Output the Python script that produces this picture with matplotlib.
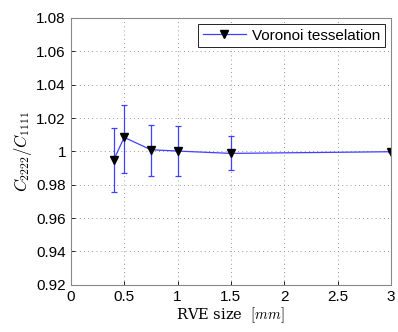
import matplotlib
matplotlib.use("Agg")
import matplotlib.pyplot as plt

# --- data ------------------------------------------------------------------
rve_size = [0.4, 0.5, 0.75, 1.0, 1.5, 3.0]
ratio = [0.9946, 1.0084, 1.0010, 1.0002, 0.9988, 0.9998]
err_low = [0.9755, 0.9870, 0.9855, 0.9850, 0.9890, 0.9998]
err_high = [1.0140, 1.0280, 1.0160, 1.0150, 1.0090, 0.9998]

xticks = [0, 0.5, 1, 1.5, 2, 2.5, 3]
xtick_labels = ["0", "0.5", "1", "1.5", "2", "2.5", "3"]
yticks = [0.92, 0.94, 0.96, 0.98, 1.00, 1.02, 1.04, 1.06, 1.08]
ytick_labels = ["0.92", "0.94", "0.96", "0.98", "1", "1.02", "1.04", "1.06", "1.08"]

plt.rcParams["mathtext.fontset"] = "cm"
plt.rcParams["font.family"] = "Liberation Sans"

fig = plt.figure(figsize=(3.98, 3.32), dpi=100)
ax = fig.add_axes([0.178, 0.142, 0.804, 0.804])

# error bars first, then the line with markers (legend shows line only)
yerr = [[r - lo for r, lo in zip(ratio, err_low)],
        [hi - r for r, hi in zip(ratio, err_high)]]
ax.errorbar(rve_size, ratio, yerr=yerr, color="#4040ff", lw=0.9,
            elinewidth=0.9, capsize=2.5, capthick=0.9, fmt="none")
ax.plot(rve_size, ratio, color="#4040ff", lw=0.9,
        marker="v", markersize=6, mfc="black", mec="black",
        label="Voronoi tesselation")

ax.set_xlim(0, 3)
ax.set_ylim(0.92, 1.08)
ax.set_xticks(xticks)
ax.set_xticklabels(xtick_labels)
ax.set_yticks(yticks)
ax.set_yticklabels(ytick_labels)
ax.tick_params(direction="in", labelsize=11, length=3, width=0.6)
ax.grid(True, linestyle=(0, (1, 4)), color="#777777", lw=0.6)
for s in ax.spines.values():
    s.set_color("#888888")
    s.set_linewidth(0.8)

ax.set_ylabel("$C_{2222}/C_{1111}$", fontsize=12, labelpad=2)
ax.set_xlabel(r"RVE size  $[mm]$", fontsize=10.5, family="DejaVu Serif", labelpad=1)

leg = ax.legend(loc="upper right", fontsize=11, fancybox=False,
                edgecolor="black", framealpha=1, handlelength=2.8,
                borderpad=0.3, handletextpad=0.4, borderaxespad=0.4)
leg.get_frame().set_linewidth(0.6)

fig.savefig("out.png", dpi=100)
